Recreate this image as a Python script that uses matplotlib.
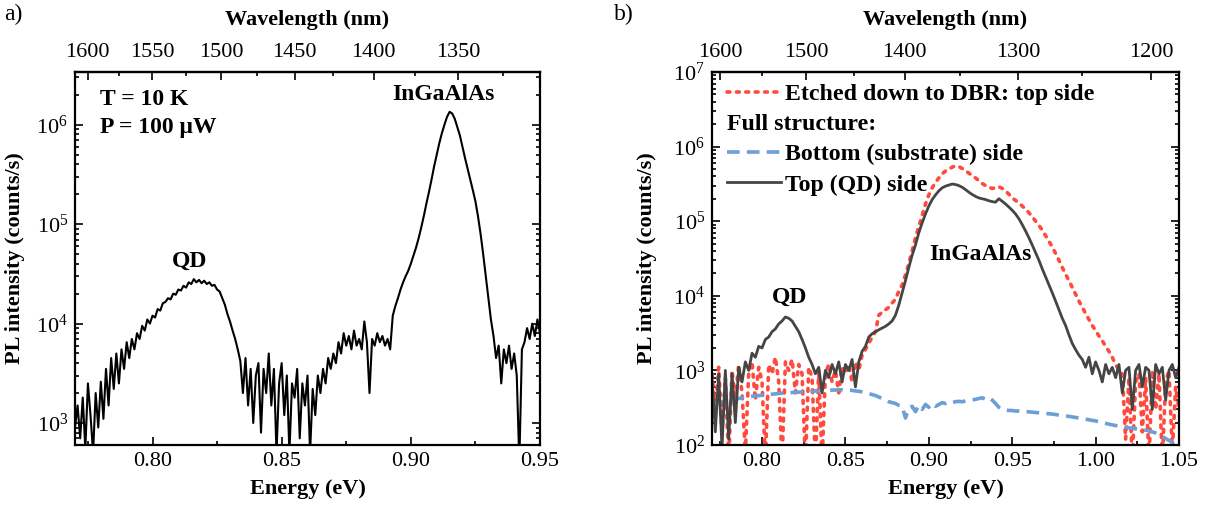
import numpy as np
import matplotlib
matplotlib.use("Agg")
import matplotlib.pyplot as plt
from matplotlib.ticker import FixedLocator, LogLocator, LogFormatterMathtext, NullFormatter
from matplotlib.lines import Line2D

plt.rcParams['font.family'] = ['Liberation Serif', 'DejaVu Serif']
plt.rcParams['mathtext.fontset'] = 'custom'
plt.rcParams['mathtext.rm'] = 'Liberation Serif'
plt.rcParams['mathtext.it'] = 'Liberation Serif:italic'
plt.rcParams['mathtext.bf'] = 'Liberation Serif:bold'
plt.rcParams['font.size'] = 16

HC = 1239.84  # eV*nm

# ---------------- Panel a) data: 0.770 .. 0.950 eV, step 0.001 ----------------
energy_a_start, energy_a_step = 0.770, 0.001
pl_a = [
    900, 1500, 700, 1800, 550, 2500, 1200, 500, 2000, 900,            # 0.770
    2600, 1100, 3500, 1500, 4500, 2200, 5000, 2500, 5500, 3500,        # 0.780
    6500, 4500, 7000, 5500, 8000, 7000, 9500, 8500, 11000, 10000,      # 0.790
    12000, 11500, 14000, 13500, 16000, 16500, 18000, 17500, 20000, 19500,  # 0.800
    22000, 21500, 24000, 23000, 26000, 25000, 28000, 26000, 27500, 25500,  # 0.810
    27000, 25000, 26000, 24000, 24500, 22000, 21000, 18000, 15500, 12500,  # 0.820
    10500, 8500, 7000, 5500, 4200, 2000, 4500, 1500, 3500, 1000,       # 0.830
    3000, 4000, 800, 3500, 2000, 5000, 1500, 3500, 500, 2500,          # 0.840
    4000, 1200, 3000, 500, 2500, 1800, 3500, 700, 2500, 1500,          # 0.850
    3000, 500, 2200, 1200, 3000, 2000, 3500, 2500, 4500, 3500,         # 0.860
    5000, 4000, 6500, 5000, 8000, 6000, 7500, 5500, 8500, 6000,        # 0.870
    7000, 5500, 10500, 6500, 2000, 7000, 6000, 8000, 6500, 7500,       # 0.880
    6000, 7000, 5500, 12000, 15000, 18000, 22000, 26000, 30000, 34000, # 0.890
    40000, 48000, 58000, 72000, 92000, 120000, 160000, 210000, 280000, 380000,  # 0.900
    500000, 650000, 820000, 1000000, 1200000, 1350000, 1300000, 1150000, 950000, 780000,  # 0.910
    600000, 460000, 360000, 280000, 220000, 170000, 120000, 80000, 50000, 30000,  # 0.920
    18000, 11000, 7500, 4500, 6000, 2500, 5500, 4000, 6000, 3500,      # 0.930
    5000, 3000, 400, 5500, 6500, 9000, 7000, 10000, 7500, 11000,       # 0.940
    8000,                                                              # 0.950
]
energy_a = np.round(energy_a_start + energy_a_step * np.arange(len(pl_a)), 4)

# ---------------- Panel b) data: 0.770 .. 1.050 eV, step 0.002 ----------------
energy_b_start, energy_b_step = 0.770, 0.002
pl_top_qd = [
    800, 150, 900, 90, 1000, 120, 900, 200, 1100, 700,                 # 0.770
    1300, 1000, 1700, 1500, 2100, 2000, 2600, 2800, 3300, 3600,        # 0.790
    4200, 4600, 5200, 5000, 4600, 3900, 3300, 2600, 2000, 1500,        # 0.810
    1200, 900, 1100, 500, 1000, 800, 1200, 900, 1300, 700,             # 0.830
    1200, 1000, 1400, 600, 1300, 1800, 2100, 2800, 3100, 3300,         # 0.850
    3500, 3700, 3900, 4200, 4600, 5500, 7500, 11000, 16000, 24000,     # 0.870
    35000, 48000, 70000, 95000, 125000, 160000, 195000, 225000, 255000, 280000,  # 0.890
    295000, 305000, 315000, 310000, 300000, 285000, 265000, 245000, 228000, 215000,  # 0.910
    205000, 200000, 195000, 188000, 183000, 180000, 200000, 185000, 170000, 155000,  # 0.930
    140000, 125000, 108000, 90000, 74000, 60000, 48000, 38000, 30000, 23000,  # 0.950
    18000, 14000, 11000, 8500, 6500, 5000, 4000, 3000, 2300, 1900,     # 0.970
    1600, 1400, 1100, 1500, 900, 1300, 1000, 700, 1200, 900,           # 0.990
    1100, 800, 1200, 500, 1000, 1100, 300, 1000, 1200, 600,            # 1.010
    1100, 1000, 300, 1200, 900, 1100, 400, 1000, 1200, 800,            # 1.030
    1100,                                                              # 1.050
]
pl_etched = [
    900, 300, 1100, 150, 800, 60, 1000, 400, 1200, 500,                # 0.770
    80, 900, 1300, 400, 1100, 700, 60, 1200, 900, 1500,                # 0.790
    700, 60, 1300, 1000, 1400, 500, 1200, 900, 60, 1100,               # 0.810
    800, 60, 1000, 60, 900, 1200, 700, 1000, 500, 1100,                # 0.830
    900, 1200, 700, 1300, 1000, 1600, 1900, 2300, 2800, 3300,          # 0.850
    5500, 6000, 6500, 7000, 8000, 9000, 11500, 14000, 19000, 27000,    # 0.870
    40000, 60000, 85000, 120000, 170000, 225000, 280000, 330000, 380000, 430000,  # 0.890
    470000, 500000, 530000, 550000, 540000, 510000, 480000, 440000, 410000, 380000,  # 0.910
    350000, 320000, 300000, 285000, 275000, 280000, 290000, 275000, 255000, 230000,  # 0.930
    205000, 190000, 175000, 160000, 145000, 130000, 115000, 100000, 88000, 76000,  # 0.950
    64000, 54000, 45000, 37000, 30000, 24000, 19500, 16000, 13000, 10500,  # 0.970
    8500, 7000, 5800, 4800, 4000, 3400, 2900, 2500, 2100, 1800,        # 0.990
    1500, 1200, 1000, 900, 120, 800, 60, 700, 900, 150,                # 1.010
    800, 60, 1000, 300, 900, 60, 700, 1000, 80, 600,                   # 1.030
    300,                                                               # 1.050
]
pl_bottom = [
    360, 365, 370, 375, 385, 395, 400, 410, 420, 430,                  # 0.770
    435, 440, 450, 455, 460, 465, 470, 475, 480, 485,                  # 0.790
    490, 495, 500, 500, 505, 510, 510, 515, 520, 520,                  # 0.810
    525, 530, 530, 535, 540, 540, 545, 545, 550, 550,                  # 0.830
    545, 540, 540, 530, 525, 515, 505, 490, 475, 460,                  # 0.850
    440, 420, 400, 380, 370, 360, 340, 330, 230, 310,                  # 0.870
    330, 280, 340, 300, 350, 320, 360, 330, 350, 370,                  # 0.890
    360, 380, 370, 380, 385, 380, 390, 395, 400, 410,                  # 0.910
    420, 430, 410, 430, 400, 360, 320, 300, 295, 290,                  # 0.930
    290, 285, 285, 280, 280, 278, 275, 272, 270, 268,                  # 0.950
    265, 262, 260, 256, 252, 250, 246, 242, 238, 234,                  # 0.970
    230, 226, 222, 218, 214, 210, 205, 200, 195, 190,                  # 0.990
    186, 182, 178, 175, 172, 170, 168, 165, 162, 160,                  # 1.010
    158, 155, 150, 145, 138, 130, 122, 115, 108, 102,                  # 1.030
    98,                                                                # 1.050
]
energy_b = np.round(energy_b_start + energy_b_step * np.arange(len(pl_top_qd)), 4)

wl_major_a = [1600, 1550, 1500, 1450, 1400, 1350]
wl_minor_a = [1625, 1575, 1525, 1475, 1425, 1375, 1325]
wl_major_b = [1600, 1500, 1400, 1300, 1200]
wl_minor_b = [1650, 1550, 1450, 1350, 1250, 1150]

labels_legend = ["Etched down to DBR: top side", "Full structure:",
                 "Bottom (substrate) side", "Top (QD) side"]

C_RED = '#ff4a3d'
C_BLUE = '#6b9fd6'
C_GRAY = '#454545'

FS_TICK = 16
FS_LABEL = 16
FS_ANN = 17
FS_LEG = 17.2

W, H = 1206, 516
fig = plt.figure(figsize=(W / 100, H / 100), dpi=100)

ax_a = fig.add_axes([75 / W, 1 - 445 / H, 465 / W, 373 / H])
ax_b = fig.add_axes([712 / W, 1 - 445 / H, 467 / W, 373 / H])


def e2l(x):
    x = np.asarray(x, dtype=float)
    with np.errstate(divide='ignore'):
        return HC / x


def style(ax, xmin, xmax, ymin, ymax, wl_major, wl_minor, ylab_x):
    ax.set_yscale('log')
    ax.set_xlim(xmin, xmax)
    ax.set_ylim(ymin, ymax)
    for s in ax.spines.values():
        s.set_linewidth(1.6)
    ax.xaxis.set_major_locator(FixedLocator([0.80, 0.85, 0.90, 0.95, 1.00, 1.05]))
    ax.xaxis.set_minor_locator(FixedLocator(np.round(np.arange(0.775, 1.06, 0.025), 3)))
    ax.xaxis.set_major_formatter(matplotlib.ticker.FormatStrFormatter('%.2f'))
    ax.yaxis.set_major_locator(LogLocator(base=10))
    ax.yaxis.set_minor_locator(LogLocator(base=10, subs=np.arange(2, 10)))
    ax.yaxis.set_major_formatter(LogFormatterMathtext())
    ax.yaxis.set_minor_formatter(NullFormatter())
    ax.tick_params(which='both', direction='in', top=False, right=True,
                   labelsize=FS_TICK, width=1.2)
    ax.tick_params(which='major', length=6, pad=5)
    ax.tick_params(which='minor', length=3)
    ax.set_xlabel('Energy (eV)', fontweight='bold', fontsize=FS_LABEL)
    ax.xaxis.set_label_coords(0.5, -0.091)
    ax.set_ylabel('PL intensity (counts/s)', fontweight='bold', fontsize=FS_LABEL)
    ax.yaxis.set_label_coords(ylab_x, 0.5)
    sec = ax.secondary_xaxis('top', functions=(e2l, e2l))
    sec.xaxis.set_major_locator(FixedLocator(wl_major))
    sec.xaxis.set_minor_locator(FixedLocator(wl_minor))
    sec.xaxis.set_major_formatter(matplotlib.ticker.FormatStrFormatter('%d'))
    sec.tick_params(which='both', direction='in', labelsize=FS_TICK, width=1.2)
    sec.tick_params(which='major', length=6, pad=7)
    sec.tick_params(which='minor', length=3)
    sec.spines['top'].set_linewidth(1.6)
    sec.set_xlabel('Wavelength (nm)', fontweight='bold', fontsize=FS_LABEL, labelpad=13)
    return sec


# ---- panel a ----
ax_a.plot(energy_a, pl_a, color='black', lw=1.5)
style(ax_a, 0.77, 0.95, 6e2, 3.4e6, wl_major_a, wl_minor_a, -0.1075)
ax_a.xaxis.set_major_locator(FixedLocator([0.80, 0.85, 0.90, 0.95]))
ax_a.text(0.7797, 1.8e6, 'T = 10 K', fontweight='bold', fontsize=FS_ANN, ha='left', va='center')
ax_a.text(0.7797, 9.4e5, 'P = 100 μW', fontweight='bold', fontsize=FS_ANN, ha='left', va='center')
ax_a.text(0.9125, 2.0e6, 'InGaAlAs', fontweight='bold', fontsize=FS_ANN, ha='center', va='center')
ax_a.text(0.8145, 4.2e4, 'QD', fontweight='bold', fontsize=FS_ANN, ha='center', va='center')

# ---- panel b ----
l_red, = ax_b.plot(energy_b, pl_etched, color=C_RED, lw=2.6,
                   linestyle=(0, (0.8, 1.8)), dash_capstyle='round')
l_blue, = ax_b.plot(energy_b, pl_bottom, color=C_BLUE, lw=2.6,
                    linestyle=(0, (3.5, 2.0)))
l_gray, = ax_b.plot(energy_b, pl_top_qd, color=C_GRAY, lw=2.0)
style(ax_b, 0.77, 1.05, 1e2, 1e7, wl_major_b, wl_minor_b, -0.118)
blank = Line2D([], [], linestyle='none')
leg = ax_b.legend([l_red, blank, l_blue, l_gray],
                  [labels_legend[0], ' ', labels_legend[2], labels_legend[3]],
                  loc='upper left', bbox_to_anchor=(0.032, 0.969),
                  frameon=False, handlelength=2.25, borderpad=0, borderaxespad=0,
                  handletextpad=0.2, labelspacing=0.35,
                  prop={'weight': 'bold', 'size': FS_LEG})
ax_b.text(0.032, 0.858, labels_legend[1], transform=ax_b.transAxes,
          fontweight='bold', fontsize=FS_LEG, ha='left', va='center')
ax_b.text(0.8168, 9.5e3, 'QD', fontweight='bold', fontsize=FS_ANN, ha='center', va='center')
ax_b.text(0.9307, 3.6e4, 'InGaAlAs', fontweight='bold', fontsize=FS_ANN, ha='center', va='center')

fig.text(4 / W, 1 - 14 / H, 'a)', fontsize=17, ha='left', va='center')
fig.text(614 / W, 1 - 14 / H, 'b)', fontsize=17, ha='left', va='center')

fig.savefig('out.png', dpi=100)
